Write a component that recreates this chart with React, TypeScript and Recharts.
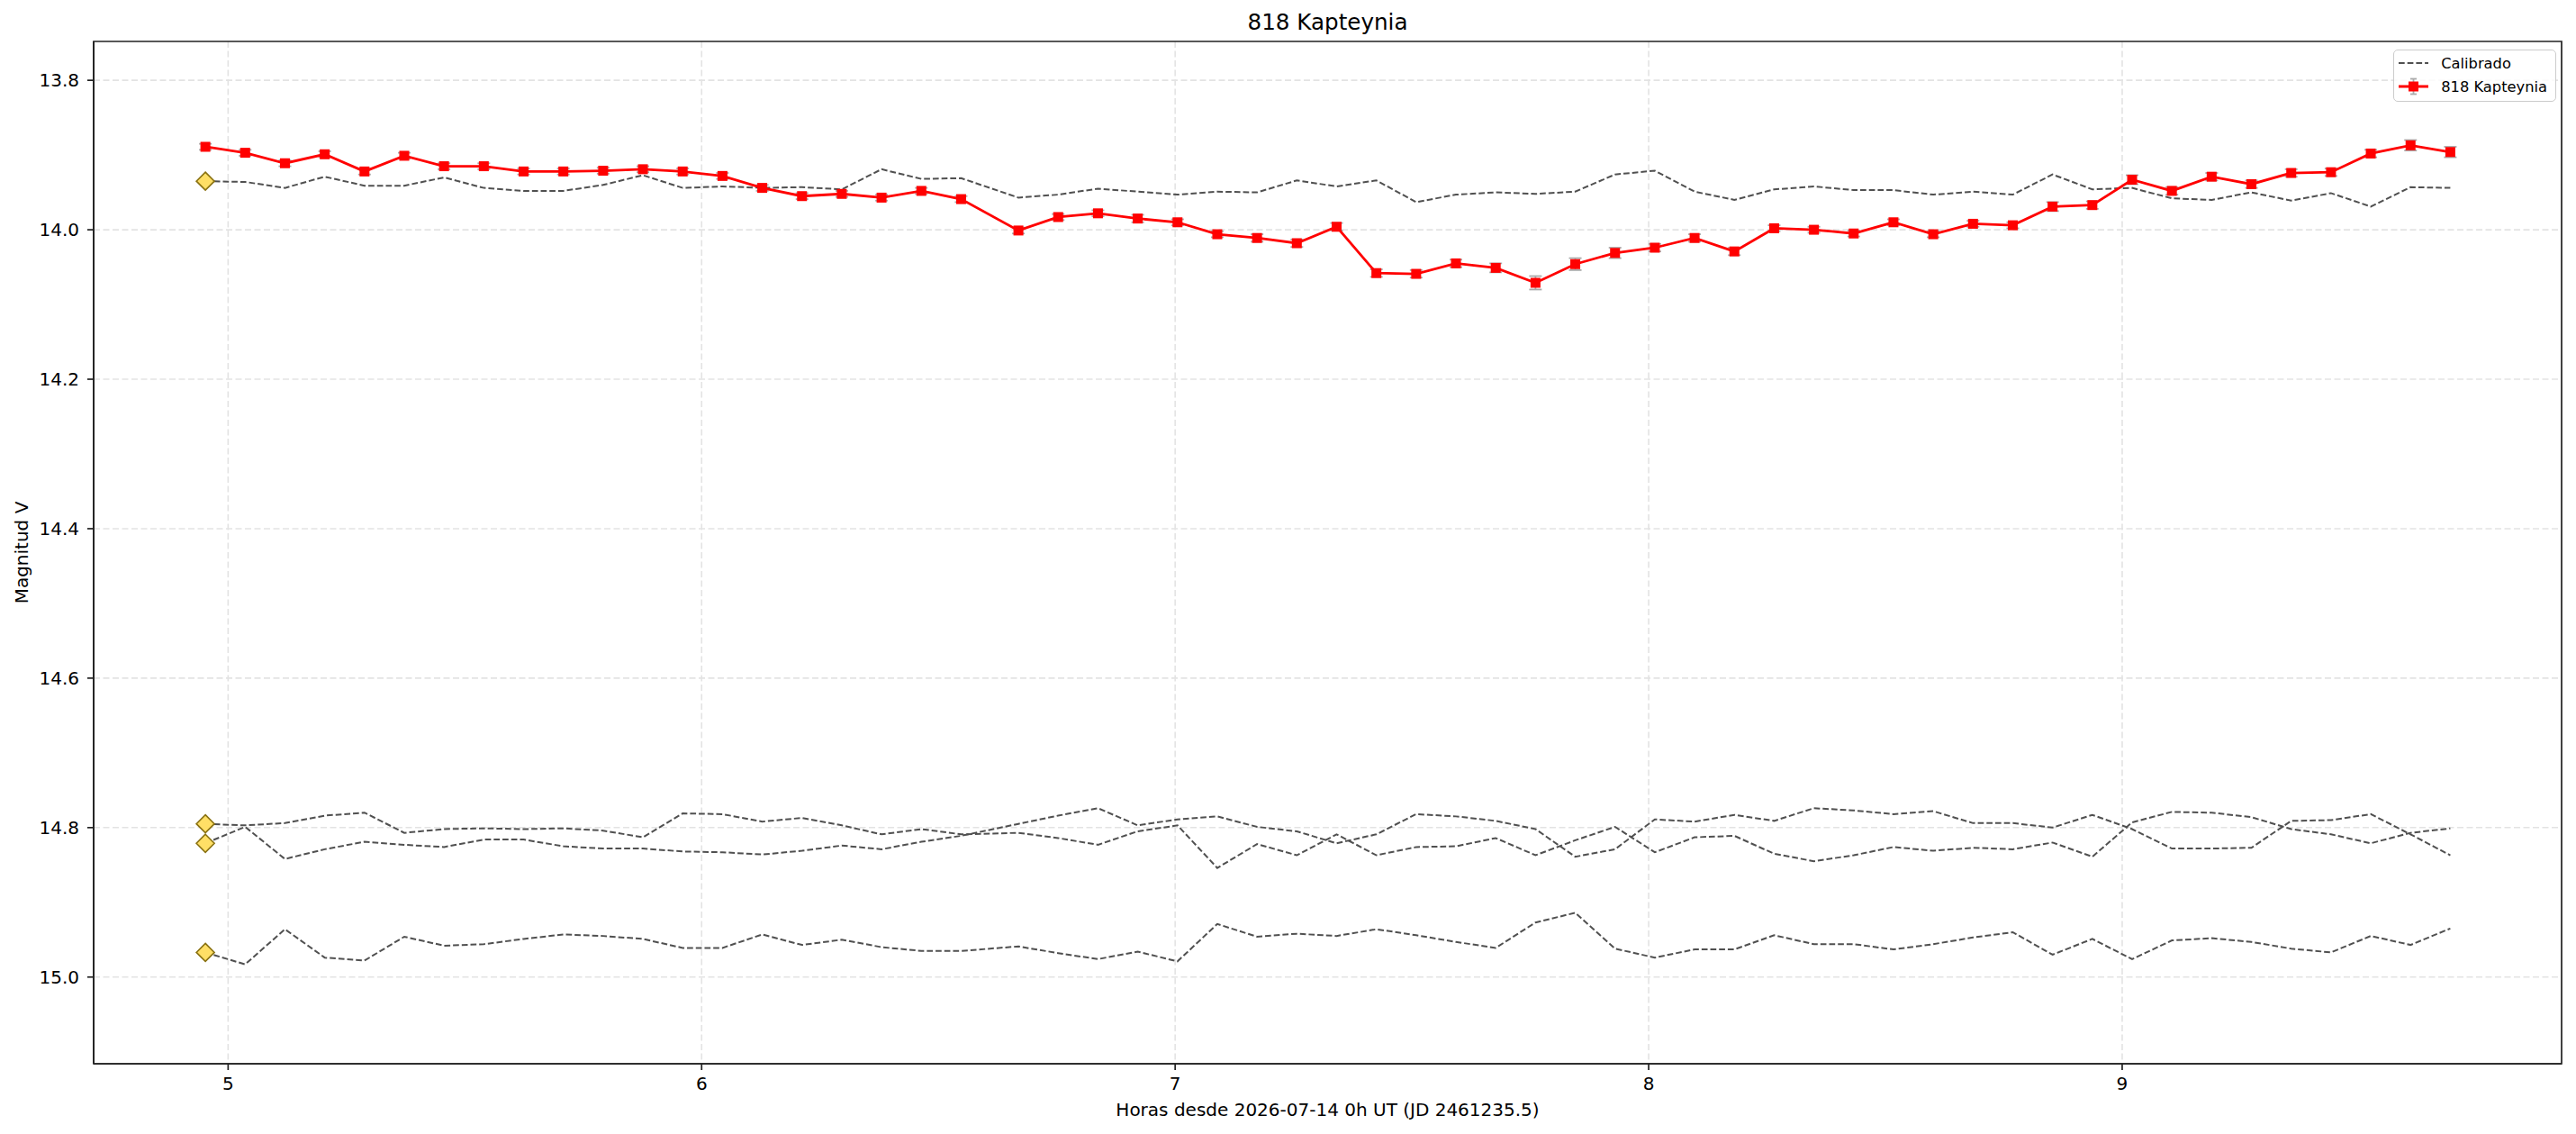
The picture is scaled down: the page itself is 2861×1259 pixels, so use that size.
import {
  LineChart,
  Line,
  XAxis,
  YAxis,
  CartesianGrid,
  Legend,
  ErrorBar,
  ReferenceArea,
} from 'recharts';

// Hours since 2026-07-14 0h UT
const tiempo = [
  4.952, 5.036, 5.12, 5.204, 5.288, 5.372, 5.456, 5.54, 5.624, 5.708,
  5.792, 5.876, 5.96, 6.044, 6.128, 6.212, 6.296, 6.38, 6.464, 6.548,
  6.669, 6.753, 6.837, 6.921, 7.005, 7.089, 7.173, 7.257, 7.341, 7.425,
  7.509, 7.593, 7.677, 7.761, 7.845, 7.929, 8.013, 8.097, 8.181, 8.265,
  8.349, 8.433, 8.517, 8.601, 8.685, 8.769, 8.853, 8.937, 9.021, 9.105,
  9.189, 9.273, 9.357, 9.441, 9.525, 9.609, 9.693,
];

// 818 Kapteynia, V magnitude
const mag818 = [
  13.889, 13.897, 13.911, 13.899, 13.922, 13.901, 13.915, 13.915, 13.922, 13.922,
  13.921, 13.919, 13.922, 13.928, 13.944, 13.955, 13.952, 13.957, 13.948, 13.959,
  14.001, 13.983, 13.978, 13.985, 13.99, 14.006, 14.011, 14.018, 13.996, 14.058,
  14.059, 14.045, 14.051, 14.071, 14.046, 14.031, 14.024, 14.011, 14.029, 13.998,
  14.0, 14.005, 13.99, 14.006, 13.992, 13.994, 13.969, 13.967, 13.933, 13.948,
  13.929, 13.939, 13.924, 13.923, 13.898, 13.887, 13.896,
];

const err818 = [
  0.004, 0.004, 0.004, 0.004, 0.004, 0.004, 0.004, 0.004, 0.004, 0.004,
  0.004, 0.004, 0.004, 0.004, 0.004, 0.004, 0.004, 0.004, 0.004, 0.004,
  0.004, 0.004, 0.004, 0.005, 0.004, 0.004, 0.005, 0.005, 0.005, 0.005,
  0.005, 0.005, 0.006, 0.009, 0.008, 0.007, 0.005, 0.005, 0.005, 0.004,
  0.004, 0.004, 0.004, 0.004, 0.004, 0.004, 0.006, 0.005, 0.006, 0.005,
  0.005, 0.005, 0.005, 0.005, 0.005, 0.007, 0.007,
];

// calibrated comparison stars
const calA = [
  13.935, 13.936, 13.944, 13.929, 13.941, 13.941, 13.93, 13.944, 13.948, 13.948,
  13.94, 13.927, 13.944, 13.942, 13.944, 13.943, 13.946, 13.919, 13.932, 13.931,
  13.957, 13.953, 13.945, 13.949, 13.953, 13.949, 13.95, 13.934, 13.942, 13.934,
  13.963, 13.953, 13.95, 13.952, 13.949, 13.926, 13.921, 13.949, 13.96, 13.946,
  13.942, 13.947, 13.947, 13.953, 13.949, 13.953, 13.926, 13.946, 13.944, 13.958,
  13.96, 13.95, 13.961, 13.951, 13.969, 13.943, 13.944,
];

const calB = [
  14.795, 14.797, 14.794, 14.784, 14.78, 14.807, 14.802, 14.801, 14.802, 14.801,
  14.804, 14.813, 14.781, 14.782, 14.792, 14.787, 14.797, 14.809, 14.802, 14.809,
  14.807, 14.814, 14.823, 14.805, 14.797, 14.854, 14.822, 14.837, 14.809, 14.837,
  14.826, 14.825, 14.814, 14.837, 14.817, 14.799, 14.833, 14.813, 14.811, 14.835,
  14.845, 14.837, 14.826, 14.831, 14.827, 14.829, 14.82, 14.839, 14.793, 14.779,
  14.78, 14.786, 14.802, 14.809, 14.821, 14.807, 14.801,
];

const calC = [
  14.821, 14.799, 14.842, 14.829, 14.819, 14.823, 14.826, 14.816, 14.816, 14.825,
  14.828, 14.828, 14.832, 14.833, 14.836, 14.831, 14.824, 14.829, 14.819, 14.811,
  14.795, 14.784, 14.774, 14.797, 14.789, 14.785, 14.799, 14.805, 14.821, 14.809,
  14.782, 14.785, 14.791, 14.802, 14.839, 14.829, 14.789, 14.792, 14.783, 14.791,
  14.774, 14.777, 14.782, 14.778, 14.794, 14.794, 14.8, 14.783, 14.802, 14.828,
  14.828, 14.827, 14.791, 14.79, 14.782, 14.809, 14.837,
];

const calD = [
  14.967, 14.983, 14.936, 14.974, 14.978, 14.946, 14.958, 14.956, 14.949, 14.943,
  14.945, 14.949, 14.961, 14.961, 14.943, 14.957, 14.95, 14.96, 14.965, 14.965,
  14.959, 14.968, 14.976, 14.966, 14.979, 14.929, 14.946, 14.942, 14.945, 14.936,
  14.944, 14.953, 14.961, 14.927, 14.914, 14.962, 14.974, 14.963, 14.963, 14.944,
  14.956, 14.956, 14.963, 14.956, 14.947, 14.94, 14.97, 14.949, 14.976, 14.951,
  14.948, 14.953, 14.962, 14.967, 14.945, 14.957, 14.935,
];

const xTicks = [5, 6, 7, 8, 9];
const yTicks = [13.8, 14.0, 14.2, 14.4, 14.6, 14.8, 15.0];
const xDomain = [4.716, 9.928];
const yDomain = [13.748, 15.116];

const FONT = '"DejaVu Sans", sans-serif';
const CAL_COLOR = '#505050';
const CAL_DASH = '6.7 3';

const chartData = tiempo.map((t, i) => ({
  t,
  obj: mag818[i],
  err: err818[i],
  c1: calA[i],
  c2: calB[i],
  c3: calC[i],
  c4: calD[i],
}));

// red square marker
const SquareDot = (props: any) => {
  const { cx, cy, index } = props;
  if (cx == null || cy == null) return <g key={`sq-${index}`} />;
  return (
    <rect key={`sq-${index}`} x={cx - 5.5} y={cy - 5.5} width={11} height={11} fill="#ff0000" />
  );
};

// gold diamond only on the first sample of each comparison star
const FirstDiamond = (props: any) => {
  const { cx, cy, index } = props;
  if (index !== 0 || cx == null) return <g key={`dm-${index}`} />;
  const r = 10;
  return (
    <polygon
      key={`dm-${index}`}
      points={`${cx},${cy - r} ${cx + r},${cy} ${cx},${cy + r} ${cx - r},${cy}`}
      fill="#ffdf66"
      stroke="#8a7212"
      strokeWidth={1.6}
    />
  );
};

const LegendBox = () => (
  <div
    style={{
      border: '1.5px solid #cccccc',
      borderRadius: 5,
      background: 'rgba(255,255,255,0.8)',
      padding: '1px 7px 3px 4.5px',
      fontFamily: FONT,
      fontSize: 16.3,
      color: '#000',
      whiteSpace: 'nowrap',
    }}
  >
    <div style={{ display: 'flex', alignItems: 'center', height: 26 }}>
      <svg width={33} height={20} style={{ marginRight: 14.7 }}>
        <line x1={0} y1={10} x2={33} y2={10} stroke={CAL_COLOR} strokeWidth={2} strokeDasharray={CAL_DASH} />
      </svg>
      <span>Calibrado</span>
    </div>
    <div style={{ display: 'flex', alignItems: 'center', height: 26 }}>
      <svg width={33} height={20} style={{ marginRight: 14.7 }}>
        <line x1={0} y1={10} x2={33} y2={10} stroke="#ff0000" strokeWidth={2.8} />
        <line x1={16.5} y1={1.5} x2={16.5} y2={18.5} stroke="#aaaaaa" strokeWidth={1.8} />
        <line x1={13} y1={1.5} x2={20} y2={1.5} stroke="#aaaaaa" strokeWidth={1.8} />
        <line x1={13} y1={18.5} x2={20} y2={18.5} stroke="#aaaaaa" strokeWidth={1.8} />
        <rect x={11} y={4.5} width={11} height={11} fill="#ff0000" />
      </svg>
      <span>818 Kapteynia</span>
    </div>
  </div>
);

export default function App() {
  const tickStyle = { fontFamily: FONT, fontSize: 20, fill: '#000' };
  const calKeys = ['c1', 'c2', 'c3', 'c4'];

  return (
    <div style={{ width: 2861, height: 1259, background: '#fff' }}>
      <style>{'body{margin:0;}'}</style>
      <LineChart
        width={2861}
        height={1259}
        data={chartData}
        margin={{ top: 46, right: 16, left: 0, bottom: 0 }}
      >
        <CartesianGrid
          stroke="#e3e3e3"
          strokeWidth={1.6}
          strokeDasharray="7 3.5"
          verticalValues={xTicks}
          horizontalValues={yTicks}
        />
        <XAxis
          dataKey="t"
          type="number"
          domain={xDomain}
          ticks={xTicks}
          allowDataOverflow
          height={78}
          stroke="#222"
          strokeWidth={1.7}
          tickSize={7}
          tickMargin={8}
          tick={tickStyle}
          tickLine={{ stroke: '#222', strokeWidth: 1.7 }}
          label={{
            value: 'Horas desde 2026-07-14 0h UT (JD 2461235.5)',
            position: 'insideBottom',
            offset: 20,
            style: { fontFamily: FONT, fontSize: 20, fill: '#000' },
          }}
        />
        <YAxis
          type="number"
          domain={yDomain}
          ticks={yTicks}
          reversed
          allowDataOverflow
          width={104}
          stroke="#222"
          strokeWidth={1.7}
          tickSize={7}
          tickMargin={9}
          tick={tickStyle}
          tickLine={{ stroke: '#222', strokeWidth: 1.7 }}
          tickFormatter={(v: number) => v.toFixed(1)}
          label={{
            value: 'Magnitud V',
            angle: -90,
            position: 'insideLeft',
            offset: 24,
            style: { fontFamily: FONT, fontSize: 20, fill: '#000', textAnchor: 'middle' },
          }}
        />
        <Legend
          layout="vertical"
          align="center"
          verticalAlign="middle"
          wrapperStyle={{ left: 2658, top: 55, width: 181 }}
          content={() => <LegendBox />}
        />

        {/* axes frame + title */}
        <ReferenceArea
          x1={xDomain[0]}
          x2={xDomain[1]}
          y1={yDomain[0]}
          y2={yDomain[1]}
          fill="none"
          fillOpacity={0}
          stroke="#222"
          strokeWidth={1.7}
          ifOverflow="visible"
          label={{
            value: '818 Kapteynia',
            position: 'top',
            offset: 13,
            style: { fontFamily: FONT, fontSize: 24.6, fill: '#000' },
          }}
        />

        {calKeys.map((k) => (
          <Line
            key={k}
            type="linear"
            dataKey={k}
            stroke={CAL_COLOR}
            strokeWidth={2}
            strokeDasharray={CAL_DASH}
            dot={FirstDiamond}
            activeDot={false}
            isAnimationActive={false}
          />
        ))}

        <Line
          type="linear"
          dataKey="obj"
          stroke="#ff0000"
          strokeWidth={2.8}
          dot={SquareDot}
          activeDot={false}
          isAnimationActive={false}
        >
          <ErrorBar dataKey="err" direction="y" width={7} stroke="#aaaaaa" strokeWidth={1.8} />
        </Line>
      </LineChart>
    </div>
  );
}
